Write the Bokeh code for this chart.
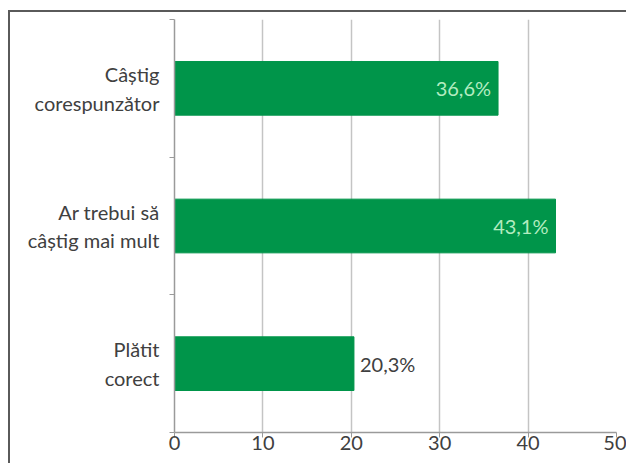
from bokeh.plotting import figure
from bokeh.models import Range1d, FixedTicker, ColumnDataSource
from bokeh.core.properties import value
from bokeh.embed import file_html
from bokeh.resources import INLINE

categories = ["Plătit\ncorect", "Ar trebui să\ncâștig mai mult", "Câștig\ncorespunzător"]
values = [20.3, 43.1, 36.6]
x_ticks = [0, 10, 20, 30, 40, 50]

FONT = "Lato"
GREEN = "#00954a"

pos = [i + 0.5 for i in range(len(categories))]
labels = [f"{v:.1f}%".replace(".", ",") for v in values]
inside = [v > 30 for v in values]

p = figure(width=626, height=463, output_backend="svg", toolbar_location=None,
           x_range=Range1d(0, 50), y_range=Range1d(0, len(categories)),
           min_border_left=174, min_border_right=10, min_border_top=19, min_border_bottom=31)
p.styles = {
    "background-color": "white",
    "background-image": "linear-gradient(#5a5a5a, #5a5a5a), linear-gradient(#5a5a5a, #5a5a5a)",
    "background-size": "2px 100%, 100% 2px",
    "background-position": "8px 10px, 8px 10px",
    "background-repeat": "no-repeat, no-repeat",
}
p.outline_line_color = None
p.background_fill_color = "white"
p.border_fill_color = None

p.hbar(y=pos, right=values, left=0, height=0.39, fill_color=GREEN, line_color=GREEN)

src = ColumnDataSource(dict(
    x=values, y=pos, text=labels,
    align=["right" if i else "left" for i in inside],
    off=[-7 if i else 6 for i in inside],
    color=["#b2ecc0" if i else "#404040" for i in inside],
))
p.text(x="x", y="y", text="text", source=src, text_align="align", x_offset="off",
       text_color="color", text_baseline="middle", text_font=value(FONT),
       text_font_size="20px")

xa = p.xaxis[0]
xa.ticker = FixedTicker(ticks=x_ticks)
xa.axis_line_color = "#9a9a9a"
xa.axis_line_width = 1.5
xa.major_tick_line_color = "#9a9a9a"
xa.major_tick_out = 5
xa.major_tick_in = 0
xa.minor_tick_line_color = None
xa.major_label_standoff = -2
xa.major_label_text_font = FONT
xa.major_label_text_font_size = "20px"
xa.major_label_text_color = "#404040"

ya = p.yaxis[0]
ya.ticker = FixedTicker(ticks=pos, minor_ticks=list(range(len(categories) + 1)))
ya.major_label_overrides = {pp: c for pp, c in zip(pos, categories)}
ya.axis_line_color = "#9a9a9a"
ya.axis_line_width = 1.5
ya.major_tick_line_color = None
ya.minor_tick_line_color = "#9a9a9a"
ya.minor_tick_out = 5
ya.minor_tick_in = 0
ya.major_label_standoff = 9
ya.major_label_text_font = FONT
ya.major_label_text_font_size = "20px"
ya.major_label_text_color = "#404040"

p.ygrid.grid_line_color = None
p.xgrid.ticker = FixedTicker(ticks=x_ticks[1:])
p.xgrid.grid_line_color = "#c4c4c4"
p.xgrid.grid_line_width = 1.5

open("out.html", "w").write(file_html(p, INLINE))
